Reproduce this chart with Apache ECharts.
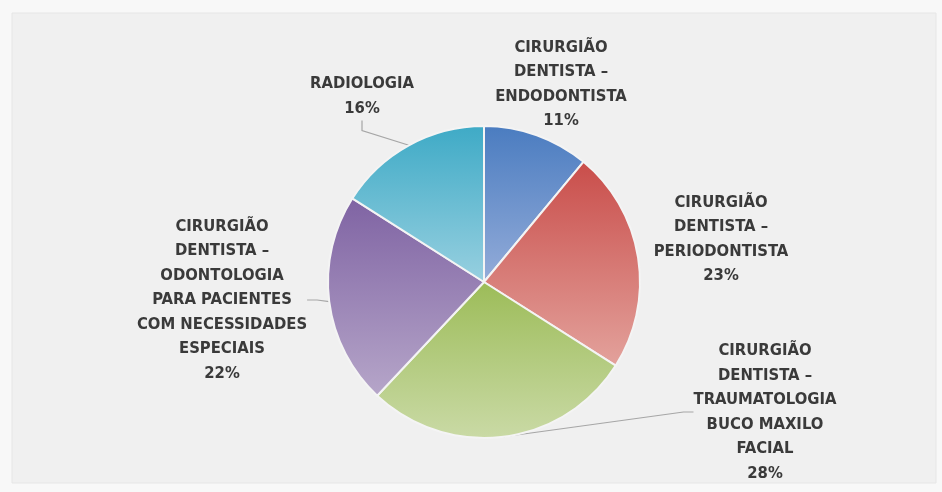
<!DOCTYPE html>
<html><head><meta charset="utf-8">
<script src="https://cdn.jsdelivr.net/npm/echarts@6/dist/echarts.min.js"></script>
<style>html,body{margin:0;padding:0;background:#f8f8f8}#c{width:942px;height:492px}</style>
</head><body><div id="c"></div>
<script>
// Data
var categories = [
  'CIRURGIÃO\nDENTISTA –\nENDODONTISTA',
  'CIRURGIÃO\nDENTISTA –\nPERIODONTISTA',
  'CIRURGIÃO\nDENTISTA –\nTRAUMATOLOGIA\nBUCO MAXILO\nFACIAL',
  'CIRURGIÃO\nDENTISTA –\nODONTOLOGIA\nPARA PACIENTES\nCOM NECESSIDADES\nESPECIAIS',
  'RADIOLOGIA'
];
var values = [11, 23, 28, 22, 16];

// Styles
var gradTop = ['#4a7cc0', '#c94d4a', '#9cbc58', '#7f63a3', '#3eaac6'];
var gradBot = ['#94acd9', '#e3a29c', '#cadaa6', '#b6a6c9', '#98d0e0'];
var labelPos = [[561, 84], [721, 239], [765, 412], [222, 300], [362, 96]];
var showLine = [false, false, true, true, true];

var chart = echarts.init(document.getElementById('c'), null, {renderer: 'canvas'});
chart.setOption({
  backgroundColor: '#f8f8f8',
  animation: false,
  graphic: [{type: 'rect', shape: {x: 12, y: 13, width: 924, height: 470}, style: {fill: '#f0f0f0', stroke: '#e6e6e6', lineWidth: 1}, z: -10}],
  series: [{
    type: 'pie',
    center: [484, 282],
    radius: [0, 156],
    startAngle: 90,
    clockwise: true,
    avoidLabelOverlap: false,
    itemStyle: {borderColor: '#f4f4f4', borderWidth: 2},
    label: {
      show: true,
      position: 'outside',
      formatter: function (p) { return p.name + '\n' + p.value + '%'; },
      fontFamily: '"Liberation Sans Narrow", "DejaVu Sans Condensed", Roboto, sans-serif',
      fontWeight: 'bold',
      fontSize: 16.5,
      lineHeight: 24.5,
      color: '#3a3a3a',
      align: 'center'
    },
    labelLine: {show: true, length: 10, length2: 10, lineStyle: {color: '#a6a6a6', width: 1.2}},
    labelLayout: function (params) {
      var pos = labelPos[params.dataIndex];
      return {x: pos[0], y: pos[1], align: 'center', verticalAlign: 'middle'};
    },
    data: categories.map(function (name, i) {
      return {
        name: name,
        value: values[i],
        labelLine: {show: showLine[i]},
        itemStyle: {color: {type: 'linear', x: 0, y: 0, x2: 0, y2: 1,
          colorStops: [{offset: 0, color: gradTop[i]}, {offset: 1, color: gradBot[i]}]}}
      };
    })
  }]
});
</script></body></html>
